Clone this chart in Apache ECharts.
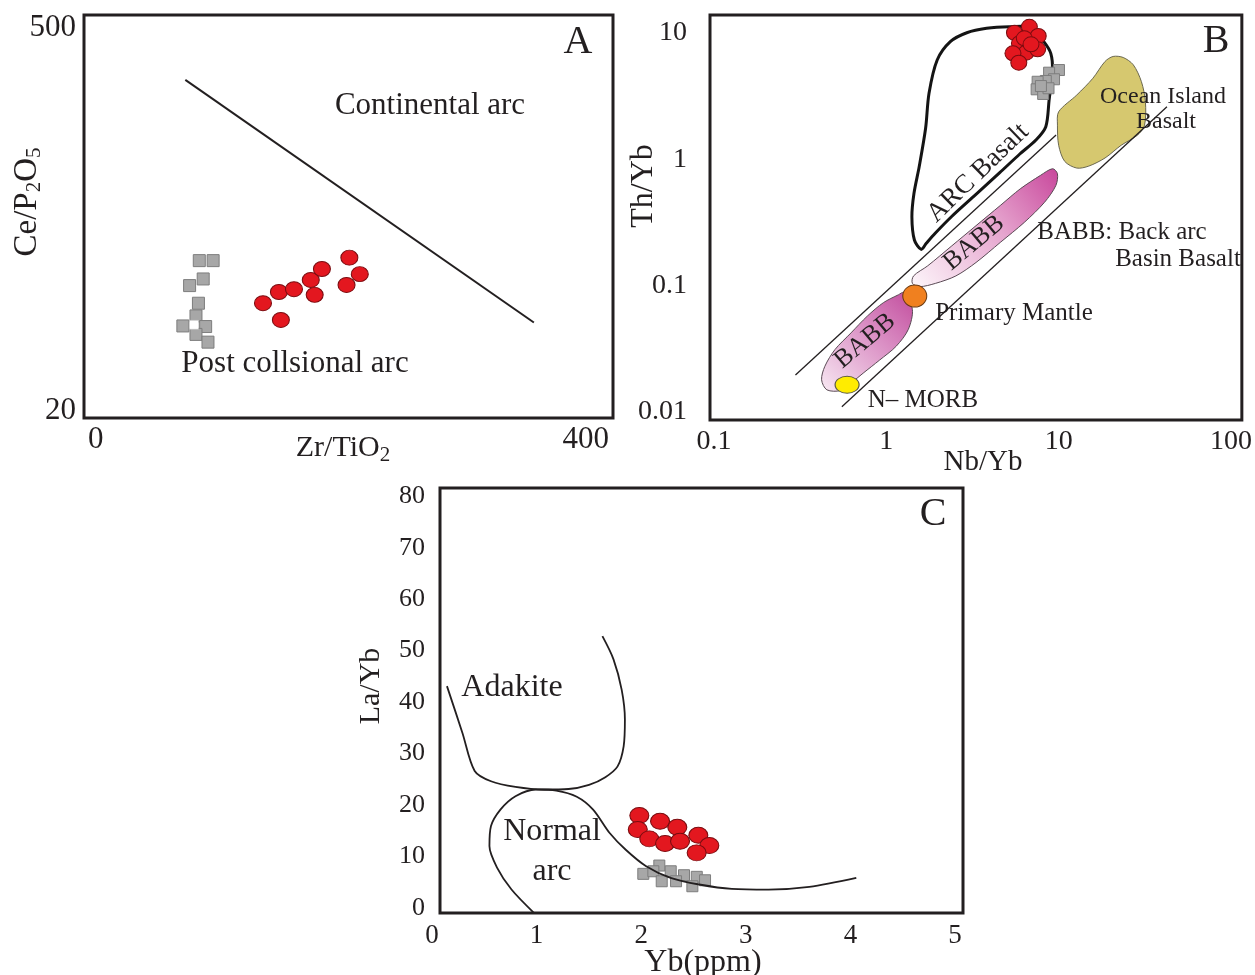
<!DOCTYPE html>
<html><head><meta charset="utf-8">
<script src="https://cdn.jsdelivr.net/npm/echarts@6/dist/echarts.min.js"></script>
<style>html,body{margin:0;padding:0;background:#fff}#c{width:1255px;height:975px}</style>
</head><body><div id="c"></div>
<script>
// ---------- Panel A: Zr/TiO2 vs Ce/P2O5 ----------
var aRedCircles = [[136.6,49.4],[149.6,54.3],[161.9,55.6],[151.2,42.9],[175.6,60.1],[184.7,65.9],[178.8,53.0],[207.1,72.5],[215.6,63.1],[204.8,57.6]];
var aGraySquares = [[84.6,70.7],[95.9,70.7],[87.8,60.6],[76.7,57.3],[83.9,49.4],[81.9,44.4],[71.2,40.8],[89.8,40.6],[81.9,38.0],[91.7,35.6]];
var aOpenSquares = [[80.3,41.2]];
var aBoundary = [[73.2,323.7],[357.7,42.0]];
var aXTicks = [0, 400];
var aYTicks = [20, 500];

// ---------- Panel B: Nb/Yb vs Th/Yb ----------
var bRedCircles = [[5.54,10.05],[6.76,11.2],[7.61,9.47],[5.92,8.28],[6.47,6.98],[5.43,6.90],[7.55,7.43],[5.87,5.82],[6.32,9.08],[6.91,8.14]];
var bGraySquares = [[10.04,5.09],[8.80,4.85],[9.40,4.30],[8.42,4.17],[7.55,4.11],[7.45,3.58],[8.13,3.29],[8.73,3.65],[7.89,3.80]];
var bPrimaryMantle = [[1.462,0.0824]];
var bNMORB = [[0.592,0.01633]];
var bArrayUpper = [[0.297,0.0195],[9.66,1.555]];
var bArrayLower = [[0.552,0.01094],[42.5,2.606]];
var bArcBasalt = [[1.593,0.193],[1.455,0.229],[1.407,0.350],[1.447,0.537],[1.551,0.872],[1.690,1.758],[1.769,3.33],[1.973,6.11],[2.351,8.54],[2.931,10.05],[3.817,10.9],[5.17,11.2],[6.91,11.06],[8.20,8.54],[9.00,6.90],[9.20,5.09],[8.80,2.94],[8.42,1.81],[7.38,1.419],[5.95,1.10],[4.55,0.782],[3.30,0.524],[2.386,0.350],[1.921,0.259],[1.706,0.2157]];
var bOIB = [[10.0,2.377],[12.74,3.228],[15.80,4.381],[18.58,5.95],[20.70,6.52],[23.68,6.40],[27.10,5.60],[30.2,4.12],[31.86,2.86],[31.5,1.862],[28.6,1.549],[23.05,1.290],[18.58,1.023],[14.97,0.883],[12.74,0.851],[10.84,0.962],[10.0,1.290],[9.84,1.862]];
var bBABBUpper = [[1.439,0.119],[1.738,0.143],[2.399,0.206],[3.315,0.2976],[4.58,0.4295],[5.99,0.583],[7.847,0.745],[9.22,0.841],[9.84,0.767],[9.63,0.619],[8.28,0.456],[6.32,0.316],[4.58,0.219],[3.315,0.152],[2.533,0.119],[1.934,0.104],[1.560,0.0978],[1.416,0.104]];
var bBABBLower = [[1.257,0.0877],[1.416,0.0646],[1.341,0.0448],[1.141,0.033],[0.910,0.0255],[0.734,0.0202],[0.624,0.01683],[0.546,0.01471],[0.452,0.01489],[0.421,0.01789],[0.440,0.0229],[0.503,0.031],[0.624,0.0421],[0.775,0.0571],[0.961,0.0730],[1.178,0.0845]];
var bXTicks = [0.1, 1, 10, 100];
var bYTicks = [0.01, 0.1, 1, 10];

// ---------- Panel C: Yb vs La/Yb ----------
var cRedCircles = [[1.982,17.94],[2.180,16.83],[2.345,15.67],[1.967,15.22],[2.077,13.41],[2.228,12.50],[2.371,12.94],[2.546,14.11],[2.651,12.11],[2.530,10.69]];
var cGraySquares = [[2.020,6.61],[2.173,8.22],[2.116,7.11],[2.282,7.11],[2.409,6.34],[2.531,6.03],[2.610,5.36],[2.196,5.17],[2.333,5.17],[2.489,4.20]];
var cAdakiteCurve = [[0.143,43.1],[0.291,34.0],[0.408,26.6],[0.564,24.6],[0.798,23.5],[1.071,23.0],[1.306,23.1],[1.501,23.9],[1.657,25.4],[1.774,27.5],[1.832,31.4],[1.844,36.6],[1.813,42.4],[1.735,48.3],[1.629,52.8]];
var cNormalArcCurve = [[0.974,-0.97],[0.760,3.56],[0.623,7.78],[0.549,12.0],[0.564,15.9],[0.654,19.1],[0.798,21.7],[0.993,23.0],[1.188,22.8],[1.384,21.6],[1.540,19.1],[1.696,14.6],[1.852,11.3],[2.047,8.1],[2.281,5.83],[2.554,4.54],[2.866,3.69],[3.217,3.56],[3.607,4.08],[4.056,5.83]];
var cXTicks = [0, 1, 2, 3, 4, 5];
var cYTicks = [0, 10, 20, 30, 40, 50, 60, 70, 80];

var INK = '#231f20';
var FONT = 'Liberation Serif';
var chart = echarts.init(document.getElementById('c'), null, {renderer: 'canvas'});

function frameGrid(l, t, w, h, show) {
  return {left: l, top: t, width: w, height: h, show: show, borderColor: INK, borderWidth: 3, backgroundColor: 'transparent', containLabel: false};
}
function axisBase(grid, type, min, max, ticks, margin, size, show) {
  return {
    gridIndex: grid, type: type, min: min, max: max, show: show !== false,
    axisLine: {show: false}, axisTick: {show: false}, splitLine: {show: false},
    axisLabel: {customValues: ticks, margin: margin, fontSize: size, fontFamily: FONT, color: INK,
      formatter: function (v) { return String(+(+v).toPrecision(6)); }}
  };
}
function polygonSeries(name, pts, xi, yi, style, smooth) {
  return {
    type: 'custom', name: name, xAxisIndex: xi, yAxisIndex: yi, data: pts, silent: true,
    renderItem: function (params, api) {
      if (params.dataIndex !== 0) return null;
      var points = pts.map(function (p) { return api.coord(p); });
      return {type: 'polygon', shape: {points: points, smooth: smooth}, style: style};
    }
  };
}
function lineSeries(name, pts, xi, yi, width, smooth) {
  return {type: 'line', name: name, xAxisIndex: xi, yAxisIndex: yi, data: pts, showSymbol: false, symbol: 'none',
    smooth: smooth, silent: true, lineStyle: {color: INK, width: width}};
}
function scatter(name, pts, xi, yi, symbol, size, fill, border, bw) {
  return {type: 'scatter', name: name, xAxisIndex: xi, yAxisIndex: yi, data: pts, symbol: symbol, symbolSize: size, silent: true,
    itemStyle: {color: fill, borderColor: border, borderWidth: bw, opacity: 1}};
}
function txt(x, y, text, size, rotDeg, rich) {
  var st = {text: text, fontSize: size, fontFamily: FONT, fill: INK, align: 'center', verticalAlign: 'middle'};
  if (rich) st.rich = rich;
  return {type: 'text', x: x, y: y, rotation: (rotDeg || 0) * Math.PI / 180, style: st, z: 100, silent: true};
}
var subA = {s: {fontSize: 21, fontFamily: FONT, fill: INK, padding: [14, 0, 0, 0]}};

var babbUpperFill = new echarts.graphic.LinearGradient(0, 1, 1, 0, [{offset: 0, color: '#fdf6fa'}, {offset: 0.55, color: '#e6a6cf'}, {offset: 1, color: '#c8469b'}]);
var babbLowerFill = new echarts.graphic.LinearGradient(0, 1, 1, 0, [{offset: 0, color: '#f8e9f3'}, {offset: 0.6, color: '#d98bc2'}, {offset: 1, color: '#c24d9d'}]);

var option = {
  animation: false,
  backgroundColor: '#ffffff',
  grid: [
    frameGrid(84, 15, 529, 403, true),
    frameGrid(710, 15, 538, 405, true),
    frameGrid(432, 488, 531, 425, false),
    frameGrid(440, 488, 523, 425, true)
  ],
  xAxis: [
    axisBase(0, 'value', -9.5, 422.3, aXTicks, 6, 31),
    axisBase(1, 'log', 0.0948, 115.6, bXTicks, 8, 28),
    axisBase(2, 'value', 0, 5.076, cXTicks, 9, 27),
    axisBase(3, 'value', 0, 1, [], 8, 26, false)
  ],
  yAxis: [
    axisBase(0, 'log', 18.8, 559, aYTicks, 8, 31),
    axisBase(1, 'log', 0.00859, 13.89, bYTicks, 23, 28),
    axisBase(2, 'value', -1, 81.6, cYTicks, 7, 26),
    axisBase(3, 'value', 0, 1, [], 8, 26, false)
  ],
  series: [
    // Panel A
    lineSeries('A boundary', aBoundary, 0, 0, 2, false),
    scatter('A post-collisional (squares)', aGraySquares, 0, 0, 'rect', 12, '#a7a7a7', '#7d7d7d', 1),
    scatter('A open square', aOpenSquares, 0, 0, 'rect', 9, '#ffffff', '#bdbdbd', 0.5),
    scatter('A samples (circles)', aRedCircles, 0, 0, 'circle', [17, 15], '#e3171f', '#7a0c10', 1),
    // Panel B
    lineSeries('B array upper', bArrayUpper, 1, 1, 1.3, false),
    lineSeries('B array lower', bArrayLower, 1, 1, 1.3, false),
    polygonSeries('Ocean Island Basalt', bOIB, 1, 1, {fill: '#d6c86f', stroke: '#6b6850', lineWidth: 1}, 0.3),
    polygonSeries('BABB upper', bBABBUpper, 1, 1, {fill: babbUpperFill, stroke: '#5a4a55', lineWidth: 1}, 0.3),
    polygonSeries('BABB lower', bBABBLower, 1, 1, {fill: babbLowerFill, stroke: '#5a4a55', lineWidth: 1}, 0.3),
    polygonSeries('ARC Basalt', bArcBasalt, 1, 1, {fill: 'none', stroke: '#141414', lineWidth: 3}, 0.3),
    scatter('Primary Mantle', bPrimaryMantle, 1, 1, 'circle', [24, 22], '#f0801f', '#6a3a12', 1),
    scatter('N-MORB', bNMORB, 1, 1, 'circle', [24, 17], '#ffec00', '#5a5a40', 1),
    scatter('B squares', bGraySquares, 1, 1, 'rect', 11, '#a7a7a7', '#7d7d7d', 1),
    scatter('B circles', bRedCircles, 1, 1, 'circle', [16, 15], '#e3171f', '#7a0c10', 1),
    // Panel C
    lineSeries('Adakite field', cAdakiteCurve, 2, 2, 1.8, 0.3),
    lineSeries('Normal arc field', cNormalArcCurve, 2, 2, 1.8, 0.3),
    scatter('C squares', cGraySquares, 2, 2, 'rect', 11, '#a7a7a7', '#7d7d7d', 1),
    scatter('C circles', cRedCircles, 2, 2, 'circle', [19, 16], '#e3171f', '#7a0c10', 1)
  ],
  graphic: [
    // Panel A texts
    txt(578, 42, 'A', 40),
    txt(430, 106, 'Continental arc', 31),
    txt(295, 364, 'Post collsional arc', 31),
    txt(27, 202, 'Ce/P{s|2}O{s|5}', 33, 90, subA),
    txt(343, 448, 'Zr/TiO{s|2}', 30, 0, subA),
    // Panel B texts
    txt(1216, 41, 'B', 40),
    txt(1163, 97, 'Ocean Island', 24),
    txt(1166, 122, 'Basalt', 24),
    txt(978, 173, 'ARC Basalt', 27, 44),
    txt(974, 243, 'BABB', 26, 40),
    txt(865, 341, 'BABB', 26, 40),
    txt(1122, 232, 'BABB: Back arc', 25),
    txt(1178, 259, 'Basin Basalt', 25),
    txt(1014, 313, 'Primary Mantle', 25),
    txt(923, 400, 'N\u2013 MORB', 25),
    txt(644, 186, 'Th/Yb', 32, 90),
    txt(983, 462, 'Nb/Yb', 29),
    // Panel C texts
    txt(933, 514, 'C', 40),
    txt(512, 688, 'Adakite', 32),
    txt(552, 832, 'Normal', 32),
    txt(552, 872, 'arc', 32),
    txt(371, 686, 'La/Yb', 30, 90),
    txt(703, 963, 'Yb(ppm)', 32)
  ]
};
chart.setOption(option);
</script>
</body></html>
